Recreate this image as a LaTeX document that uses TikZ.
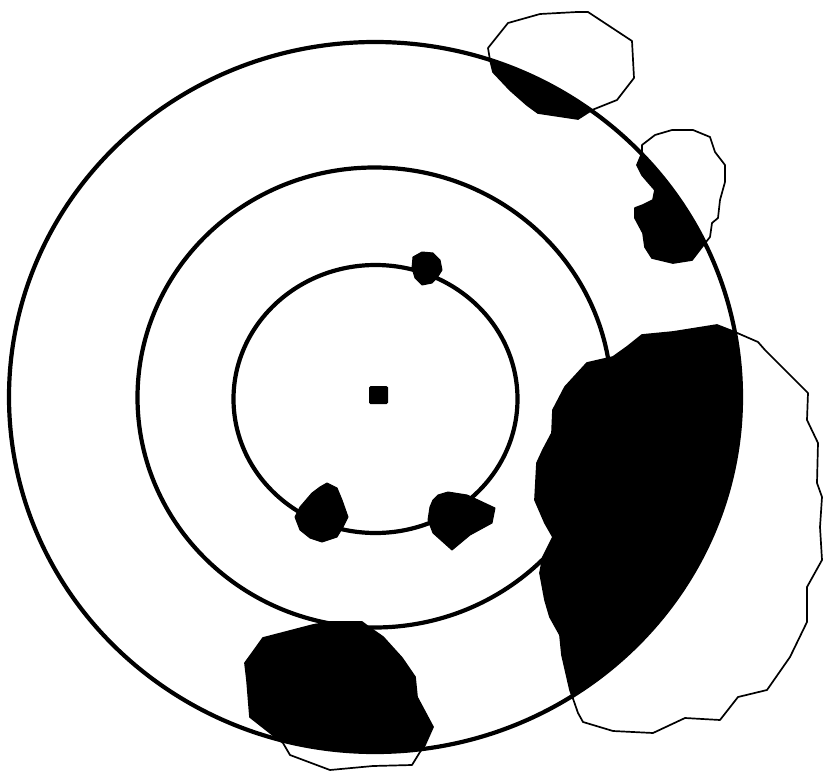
\documentclass[tikz,border=0pt]{standalone}
\begin{document}
\begin{tikzpicture}[x=1pt,y=-1pt,
  ring/.style={line width=4.2pt,black},
  outline/.style={line width=1.7pt,black,line join=round},
  speck/.style={fill=black,draw=black,line width=1pt,line join=round}]
\useasboundingbox (0,0) rectangle (823,771);
\fill[white] (0,0) rectangle (823,771);
% blob outlines
\def\blobA{(488,48) -- (508,23) -- (540,14) -- (577,12) -- (588,12) -- (632,41) -- (634,78) -- (617,100) -- (592,110) -- (578,119) -- (538,113) -- (527,105) -- (510,90) -- (493,72) -- (490,60) -- cycle}
\def\blobB{(642,145) -- (655,135) -- (672,130) -- (693,130) -- (710,137) -- (715,152) -- (725,165) -- (725,182) -- (720,200) -- (718,218) -- (712,223) -- (710,237) -- (702,247) -- (692,260) -- (673,263) -- (652,258) -- (645,247) -- (643,233) -- (635,218) -- (635,208) -- (643,205) -- (653,200) -- (655,190) -- (648,182) -- (642,175) -- (637,165) -- (642,153) -- cycle}
\def\blobC{(717,325) -- (735,332) -- (758,342) -- (765,350) -- (808,393) -- (807,420) -- (818,443) -- (817,483) -- (822,497) -- (820,527) -- (822,560) -- (807,587) -- (807,622) -- (790,657) -- (767,690) -- (738,697) -- (720,720) -- (685,718) -- (653,733) -- (613,731) -- (583,722) -- (578,713) -- (570,690) -- (562,655) -- (560,635) -- (550,617) -- (545,600) -- (540,573) -- (543,557) -- (553,537) -- (545,523) -- (535,500) -- (537,463) -- (543,450) -- (552,433) -- (553,410) -- (565,387) -- (587,363) -- (613,357) -- (627,347) -- (642,335) -- (673,332) -- cycle}
\def\blobD{(263,638) -- (313,625) -- (330,622) -- (362,622) -- (370,628) -- (383,637) -- (402,658) -- (415,677) -- (417,697) -- (433,727) -- (425,745) -- (420,752) -- (412,765) -- (373,766) -- (330,770) -- (290,755) -- (283,743) -- (250,717) -- (247,680) -- (245,663) -- (253,652) -- cycle}
\draw[outline] \blobA;
\draw[outline] \blobB;
\draw[outline] \blobC;
\draw[outline] \blobD;
\begin{scope}
  \clip (375,397) ellipse [x radius=366pt, y radius=355pt];
  \fill[black] \blobA;
  \fill[black] \blobB;
  \fill[black] \blobC;
  \fill[black] \blobD;
\end{scope}
% concentric rings
\draw[ring] (375,397) ellipse [x radius=366pt, y radius=355pt];
\draw[ring] (374.5,397.5) ellipse [x radius=237pt, y radius=230pt];
\draw[ring] (375.5,399) ellipse [x radius=142pt, y radius=134pt];
% small blobs on the inner ring
\draw[speck] (413,257) -- (422,252) -- (433,253) -- (440,260) -- (442,270) -- (437,278) -- (432,283) -- (422,285) -- (415,278) -- (412,268) -- cycle;
\draw[speck] (327,483) -- (337,488) -- (342,500) -- (348,517) -- (343,527) -- (337,537) -- (322,542) -- (310,538) -- (300,530) -- (295,517) -- (300,507) -- (312,493) -- (320,487) -- cycle;
\draw[speck] (438,495) -- (448,492) -- (467,495) -- (478,500) -- (495,508) -- (492,523) -- (470,535) -- (452,550) -- (433,533) -- (428,520) -- (430,507) -- (433,500) -- cycle;
% centre square
\fill[black,rounded corners=1.5pt] (369,386) rectangle (388,404);
\end{tikzpicture}
\end{document}
